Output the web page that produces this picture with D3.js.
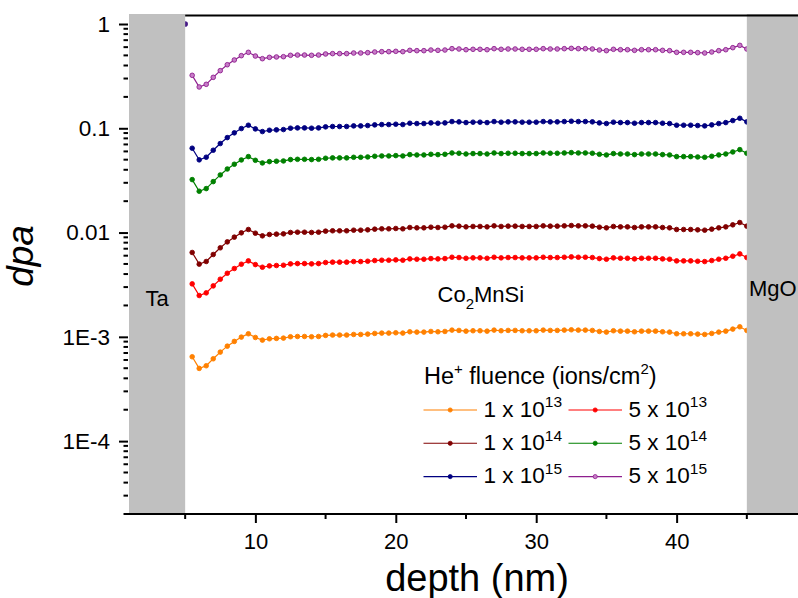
<!DOCTYPE html>
<html>
<head>
<meta charset="utf-8">
<script src="https://cdn.jsdelivr.net/npm/d3@7"></script>
<style>
  html, body { margin: 0; padding: 0; background: #fff; }
  svg { display: block; font-family: "Liberation Sans", Arial, sans-serif; }
</style>
</head>
<body>
<svg id="chart" width="798" height="598"></svg>
<script>
// Depth grid through the Co2MnSi layer (nm)
const depth = [
  5.5, 6, 6.5, 7, 7.5, 8, 8.5, 9, 9.5, 10,
  10.5, 11, 11.5, 12, 12.5, 13, 13.5, 14, 14.5, 15,
  15.5, 16, 16.5, 17, 17.5, 18, 18.5, 19, 19.5, 20,
  20.5, 21, 21.5, 22, 22.5, 23, 23.5, 24, 24.5, 25,
  25.5, 26, 26.5, 27, 27.5, 28, 28.5, 29, 29.5, 30,
  30.5, 31, 31.5, 32, 32.5, 33, 33.5, 34, 34.5, 35,
  35.5, 36, 36.5, 37, 37.5, 38, 38.5, 39, 39.5, 40,
  40.5, 41, 41.5, 42, 42.5, 43, 43.5, 44, 44.5, 45
];

// Displacements per atom for each He+ fluence
const dpa1e13 = [
  0.000644, 0.000498, 0.000528, 0.000616, 0.000714, 0.000814, 0.000904, 0.000994, 0.00107, 0.000986,
  0.00093, 0.000958, 0.000966, 0.000972, 0.001002, 0.001008, 0.001008, 0.001002, 0.001008, 0.001032,
  0.00104, 0.00104, 0.00104, 0.001054, 0.001054, 0.001062, 0.001078, 0.001086, 0.001086, 0.001094,
  0.001086, 0.001118, 0.00111, 0.00111, 0.001126, 0.001118, 0.001126, 0.00116, 0.001152, 0.001134,
  0.001144, 0.001144, 0.001134, 0.00116, 0.001144, 0.001152, 0.001152, 0.001144, 0.001144, 0.001144,
  0.00116, 0.001152, 0.001152, 0.00116, 0.001168, 0.00116, 0.00116, 0.001152, 0.001126, 0.00111,
  0.001144, 0.001134, 0.001134, 0.001118, 0.001134, 0.001134, 0.001134, 0.001118, 0.00111, 0.00107,
  0.00107, 0.00107, 0.001062, 0.001054, 0.001078, 0.00111, 0.001134, 0.001186, 0.001248, 0.001152
];
const dpa5e13 = [
  0.00322, 0.00249, 0.00264, 0.00308, 0.00357, 0.00407, 0.00452, 0.00497, 0.00535, 0.00493,
  0.00465, 0.00479, 0.00483, 0.00486, 0.00501, 0.00504, 0.00504, 0.00501, 0.00504, 0.00516,
  0.0052, 0.0052, 0.0052, 0.00527, 0.00527, 0.00531, 0.00539, 0.00543, 0.00543, 0.00547,
  0.00543, 0.00559, 0.00555, 0.00555, 0.00563, 0.00559, 0.00563, 0.0058, 0.00576, 0.00567,
  0.00572, 0.00572, 0.00567, 0.0058, 0.00572, 0.00576, 0.00576, 0.00572, 0.00572, 0.00572,
  0.0058, 0.00576, 0.00576, 0.0058, 0.00584, 0.0058, 0.0058, 0.00576, 0.00563, 0.00555,
  0.00572, 0.00567, 0.00567, 0.00559, 0.00567, 0.00567, 0.00567, 0.00559, 0.00555, 0.00535,
  0.00535, 0.00535, 0.00531, 0.00527, 0.00539, 0.00555, 0.00567, 0.00593, 0.00624, 0.00576
];
const dpa1e14 = [
  0.00644, 0.00498, 0.00528, 0.00616, 0.00714, 0.00814, 0.00904, 0.00994, 0.0107, 0.00986,
  0.0093, 0.00958, 0.00966, 0.00972, 0.01002, 0.01008, 0.01008, 0.01002, 0.01008, 0.01032,
  0.0104, 0.0104, 0.0104, 0.01054, 0.01054, 0.01062, 0.01078, 0.01086, 0.01086, 0.01094,
  0.01086, 0.01118, 0.0111, 0.0111, 0.01126, 0.01118, 0.01126, 0.0116, 0.01152, 0.01134,
  0.01144, 0.01144, 0.01134, 0.0116, 0.01144, 0.01152, 0.01152, 0.01144, 0.01144, 0.01144,
  0.0116, 0.01152, 0.01152, 0.0116, 0.01168, 0.0116, 0.0116, 0.01152, 0.01126, 0.0111,
  0.01144, 0.01134, 0.01134, 0.01118, 0.01134, 0.01134, 0.01134, 0.01118, 0.0111, 0.0107,
  0.0107, 0.0107, 0.01062, 0.01054, 0.01078, 0.0111, 0.01134, 0.01186, 0.01248, 0.01152
];
const dpa5e14 = [
  0.0322, 0.0249, 0.0264, 0.0308, 0.0357, 0.0407, 0.0452, 0.0497, 0.0535, 0.0493,
  0.0465, 0.0479, 0.0483, 0.0486, 0.0501, 0.0504, 0.0504, 0.0501, 0.0504, 0.0516,
  0.052, 0.052, 0.052, 0.0527, 0.0527, 0.0531, 0.0539, 0.0543, 0.0543, 0.0547,
  0.0543, 0.0559, 0.0555, 0.0555, 0.0563, 0.0559, 0.0563, 0.058, 0.0576, 0.0567,
  0.0572, 0.0572, 0.0567, 0.058, 0.0572, 0.0576, 0.0576, 0.0572, 0.0572, 0.0572,
  0.058, 0.0576, 0.0576, 0.058, 0.0584, 0.058, 0.058, 0.0576, 0.0563, 0.0555,
  0.0572, 0.0567, 0.0567, 0.0559, 0.0567, 0.0567, 0.0567, 0.0559, 0.0555, 0.0535,
  0.0535, 0.0535, 0.0531, 0.0527, 0.0539, 0.0555, 0.0567, 0.0593, 0.0624, 0.0576
];
const dpa1e15 = [
  0.0644, 0.0498, 0.0528, 0.0616, 0.0714, 0.0814, 0.0904, 0.0994, 0.107, 0.0986,
  0.093, 0.0958, 0.0966, 0.0972, 0.1002, 0.1008, 0.1008, 0.1002, 0.1008, 0.1032,
  0.104, 0.104, 0.104, 0.1054, 0.1054, 0.1062, 0.1078, 0.1086, 0.1086, 0.1094,
  0.1086, 0.1118, 0.111, 0.111, 0.1126, 0.1118, 0.1126, 0.116, 0.1152, 0.1134,
  0.1144, 0.1144, 0.1134, 0.116, 0.1144, 0.1152, 0.1152, 0.1144, 0.1144, 0.1144,
  0.116, 0.1152, 0.1152, 0.116, 0.1168, 0.116, 0.116, 0.1152, 0.1126, 0.111,
  0.1144, 0.1134, 0.1134, 0.1118, 0.1134, 0.1134, 0.1134, 0.1118, 0.111, 0.107,
  0.107, 0.107, 0.1062, 0.1054, 0.1078, 0.111, 0.1134, 0.1186, 0.1248, 0.1152
];
const dpa5e15 = [
  0.322, 0.249, 0.264, 0.308, 0.357, 0.407, 0.452, 0.497, 0.535, 0.493,
  0.465, 0.479, 0.483, 0.486, 0.501, 0.504, 0.504, 0.501, 0.504, 0.516,
  0.52, 0.52, 0.52, 0.527, 0.527, 0.531, 0.539, 0.543, 0.543, 0.547,
  0.543, 0.559, 0.555, 0.555, 0.563, 0.559, 0.563, 0.58, 0.576, 0.567,
  0.572, 0.572, 0.567, 0.58, 0.572, 0.576, 0.576, 0.572, 0.572, 0.572,
  0.58, 0.576, 0.576, 0.58, 0.584, 0.58, 0.58, 0.576, 0.563, 0.555,
  0.572, 0.567, 0.567, 0.559, 0.567, 0.567, 0.567, 0.559, 0.555, 0.535,
  0.535, 0.535, 0.531, 0.527, 0.539, 0.555, 0.567, 0.593, 0.624, 0.576
];

// Single point at the Ta / Co2MnSi interface
const interfaceDepth = [5];
const interfaceDpa = [1];

// Fluence labels (mantissa text, exponent) in legend order
const fluenceLabels = [
  ["1 x 10", "13"], ["5 x 10", "13"],
  ["1 x 10", "14"], ["5 x 10", "14"],
  ["1 x 10", "15"], ["5 x 10", "15"]
];

// Layer stack
const layerNames = ["Ta", "Co", "MgO"];
const layerBounds = [[1, 5], [45, 49]];

// Axis ticks
const xMajorTicks = [10, 20, 30, 40];
const xMinorTicks = [5, 15, 25, 35, 45];
const yMajorTicks = [1, 0.1, 0.01, 0.001, 0.0001];
const yTickLabels = ["1", "0.1", "0.01", "1E-3", "1E-4"];

const series = [
  { values: dpa1e13, label: fluenceLabels[0], color: "#ff8000", fill: "#ff8000" },
  { values: dpa5e13, label: fluenceLabels[1], color: "#ff0000", fill: "#ff0000" },
  { values: dpa1e14, label: fluenceLabels[2], color: "#800000", fill: "#800000" },
  { values: dpa5e14, label: fluenceLabels[3], color: "#008000", fill: "#008000" },
  { values: dpa1e15, label: fluenceLabels[4], color: "#000080", fill: "#000080" },
  { values: dpa5e15, label: fluenceLabels[5], color: "#8e1f8e", fill: "#c77cc7" }
];

const svg = d3.select("#chart");
const W = 798, H = 598;
const plotLeft = 129, plotTop = 15, plotBottom = 514;

const x = d3.scaleLinear().domain([1, 49]).range([plotLeft, 803]);
const y = d3.scaleLog().domain([2.0e-5, 1.22]).range([plotBottom, plotTop]);

// data lines and markers
const line = d3.line().x((d, i) => x(depth[i])).y(d => y(d));
const dataG = svg.append("g");
series.forEach(s => {
  dataG.append("path")
    .attr("d", line(s.values))
    .attr("fill", "none")
    .attr("stroke", s.color)
    .attr("stroke-width", 1.2);
  dataG.selectAll(null).data(s.values).enter().append("circle")
    .attr("cx", (d, i) => x(depth[i]))
    .attr("cy", d => y(d))
    .attr("r", 2.3)
    .attr("fill", s.fill)
    .attr("stroke", s.color)
    .attr("stroke-width", 0.9);
});
dataG.selectAll(null).data(interfaceDpa).enter().append("circle")
  .attr("cx", (d, i) => x(interfaceDepth[i]))
  .attr("cy", d => y(d))
  .attr("r", 2.8)
  .attr("fill", "#461a86");

// grey Ta and MgO layers
svg.selectAll(null).data(layerBounds).enter().append("rect")
  .attr("x", d => x(d[0]))
  .attr("y", plotTop - 1)
  .attr("width", d => x(d[1]) - x(d[0]))
  .attr("height", plotBottom - plotTop + 1)
  .attr("fill", "#c0c0c0");

// top frame
svg.append("line")
  .attr("x1", x(5)).attr("x2", W)
  .attr("y1", plotTop + 0.5).attr("y2", plotTop + 0.5)
  .attr("stroke", "#000").attr("stroke-width", 2);

// x axis
const xAxisG = svg.append("g").attr("transform", `translate(0,${plotBottom})`);
xAxisG.call(d3.axisBottom(x).tickValues(xMajorTicks).tickSize(9).tickPadding(10).tickFormat(d3.format("d")))
  .call(g => g.select(".domain").remove());
xAxisG.selectAll(".tick line").attr("stroke-width", 2);
xAxisG.selectAll(".tick text").attr("font-size", 22).attr("font-family", "Liberation Sans, Arial, sans-serif").attr("fill", "#000");
xAxisG.selectAll(".minor").data(xMinorTicks).enter().append("line")
  .attr("x1", d => x(d)).attr("x2", d => x(d))
  .attr("y1", 0).attr("y2", 5)
  .attr("stroke", "#000").attr("stroke-width", 2);
xAxisG.append("line")
  .attr("x1", 125).attr("x2", W).attr("y1", 0).attr("y2", 0)
  .attr("stroke", "#000").attr("stroke-width", 2);

// y axis (log)
const yAxisG = svg.append("g").attr("transform", `translate(${plotLeft - 1},0)`);
yAxisG.call(d3.axisLeft(y).tickValues(yMajorTicks).tickSize(9).tickPadding(9)
    .tickFormat((d, i) => yTickLabels[i]))
  .call(g => g.select(".domain").remove());
yAxisG.selectAll(".tick line").attr("stroke-width", 2);
yAxisG.selectAll(".tick text").attr("font-size", 22.5).attr("font-family", "Liberation Sans, Arial, sans-serif").attr("fill", "#000");
const yMinor = y.ticks().filter(v => !yMajorTicks.includes(v) && v >= 2e-5 && v <= 1.2);
yAxisG.selectAll(".minor").data(yMinor).enter().append("line")
  .attr("x1", -4.5).attr("x2", 0)
  .attr("y1", d => y(d)).attr("y2", d => y(d))
  .attr("stroke", "#000").attr("stroke-width", 2);

// axis titles
svg.append("text")
  .attr("x", 477).attr("y", 591)
  .attr("text-anchor", "middle")
  .attr("font-size", 38)
  .text("depth (nm)");
svg.append("text")
  .attr("transform", "translate(33,256) rotate(-90)")
  .attr("text-anchor", "middle")
  .attr("font-size", 37)
  .attr("font-style", "italic")
  .text("dpa");

// layer labels
svg.append("text").attr("x", (x(1) + x(5)) / 2).attr("y", 306)
  .attr("text-anchor", "middle").attr("font-size", 22).text(layerNames[0]);
svg.append("text").attr("x", 749).attr("y", 296)
  .attr("font-size", 22).text(layerNames[2]);
const cms = svg.append("text").attr("x", 437.5).attr("y", 301.5).attr("font-size", 22);
cms.append("tspan").text(layerNames[1]);
cms.append("tspan").attr("font-size", 15).attr("dy", 7).text("2");
cms.append("tspan").attr("dy", -7).text("MnSi");

// legend
const leg = svg.append("g");
const title = leg.append("text").attr("x", 424).attr("y", 383.5).attr("font-size", 23.5);
title.append("tspan").text("He");
title.append("tspan").attr("font-size", 15).attr("dy", -10).text("+");
title.append("tspan").attr("dy", 10).text(" fluence (ions/cm");
title.append("tspan").attr("font-size", 15).attr("dy", -10).text("2");
title.append("tspan").attr("dy", 10).text(")");

const colX = [423.5, 568.5];
const rowY = [416.7, 450, 483.3];
series.forEach((s, i) => {
  const cx0 = colX[i % 2];
  const by = rowY[Math.floor(i / 2)];
  const ly = by - 6.7;
  leg.append("line")
    .attr("x1", cx0).attr("x2", cx0 + 53.5)
    .attr("y1", ly).attr("y2", ly)
    .attr("stroke", s.color).attr("stroke-width", 1.1);
  leg.append("circle")
    .attr("cx", cx0 + 26.7).attr("cy", ly).attr("r", 2.1)
    .attr("fill", s.fill).attr("stroke", s.color).attr("stroke-width", 0.8);
  const t = leg.append("text").attr("x", cx0 + 60).attr("y", by).attr("font-size", 22.5);
  t.append("tspan").text(s.label[0]);
  t.append("tspan").attr("font-size", 15.5).attr("dy", -9.5).text(s.label[1]);
});
</script>
</body>
</html>
